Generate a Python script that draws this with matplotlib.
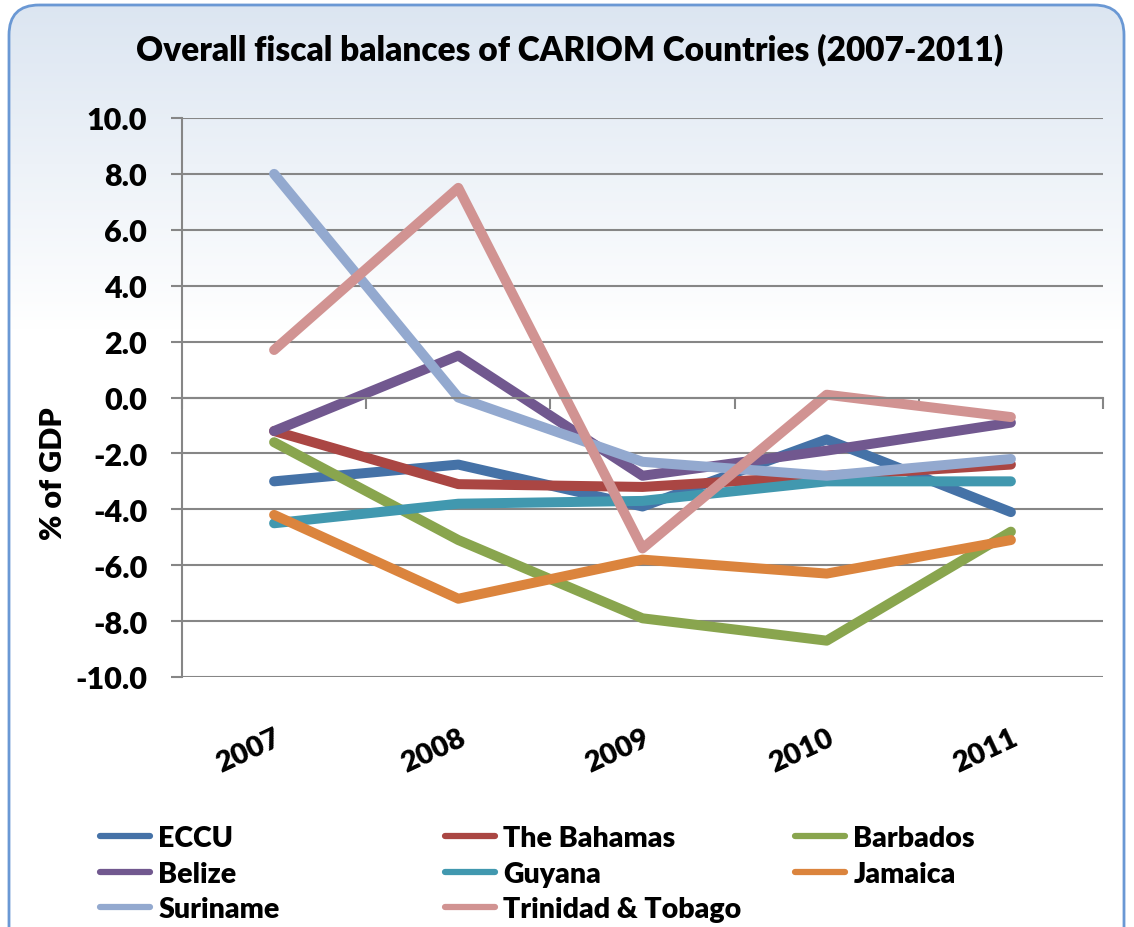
import numpy as np
import matplotlib
matplotlib.use("Agg")
import matplotlib.pyplot as plt
from matplotlib.patches import FancyBboxPatch
from matplotlib.lines import Line2D

years = ["2007", "2008", "2009", "2010", "2011"]
eccu = [-3.0, -2.4, -3.9, -1.5, -4.1]
bahamas = [-1.2, -3.1, -3.2, -2.8, -2.4]
barbados = [-1.6, -5.1, -7.9, -8.7, -4.8]
belize = [-1.2, 1.5, -2.8, -1.9, -0.9]
guyana = [-4.5, -3.8, -3.7, -3.0, -3.0]
jamaica = [-4.2, -7.2, -5.8, -6.3, -5.1]
suriname = [8.0, 0.0, -2.3, -2.8, -2.2]
trinidad = [1.7, 7.5, -5.4, 0.1, -0.7]
yticks = [10, 8, 6, 4, 2, 0, -2, -4, -6, -8, -10]

series = [
    ("ECCU", eccu, "#4572A7"),
    ("The Bahamas", bahamas, "#AA4643"),
    ("Barbados", barbados, "#89A54E"),
    ("Belize", belize, "#71588F"),
    ("Guyana", guyana, "#4198AF"),
    ("Jamaica", jamaica, "#DB843D"),
    ("Suriname", suriname, "#93A9CF"),
    ("Trinidad & Tobago", trinidad, "#D19392"),
]

FONT = "Lato"
WT = "heavy"
W, H = 1134, 928
fig = plt.figure(figsize=(W / 100, H / 100), dpi=100)

# background with gradient inside rounded border
bg = fig.add_axes([0, 0, 1, 1], zorder=-10)
bg.set_xlim(0, W)
bg.set_ylim(H, 0)
bg.axis("off")
grad = np.ones((H, 1, 3))
top = np.array([0xdb, 0xe5, 0xf1]) / 255.0
for i in range(H):
    t = min(i / 330.0, 1.0)
    grad[i, 0, :] = top * (1 - t) + np.ones(3) * t
img = bg.imshow(grad, extent=[0, W, H, 0], aspect="auto", zorder=0)
box = FancyBboxPatch((9, 6), W - 19, H + 30, boxstyle="round,pad=0,rounding_size=30",
                     facecolor="none", edgecolor="#6a98d4", linewidth=2.0, zorder=2)
bg.add_patch(box)
img.set_clip_path(box)

ax = fig.add_axes([182 / W, 1 - 678 / H, (1103 - 182) / W, (678 - 119) / H])
ax.patch.set_alpha(0)
x = np.arange(len(years))
for name, vals, col in series:
    ax.plot(x, vals, color=col, lw=7.2, solid_capstyle="round", solid_joinstyle="round", label=name)

ax.set_xlim(-0.5, 4.5)
ax.set_ylim(-10, 10)
ax.set_yticks(yticks)
ax.set_yticklabels([f"{v:.1f}" for v in yticks], fontsize=22, fontweight=WT, family=FONT)
ax.yaxis.grid(True, color="#868686", lw=1.5)
ax.set_axisbelow(True)
ax.tick_params(axis="y", length=8, width=1.5, color="#868686", pad=17)
for s in ["top", "right"]:
    ax.spines[s].set_visible(False)
ax.spines["left"].set_color("#868686")
ax.spines["left"].set_linewidth(1.5)
ax.spines["bottom"].set_position(("data", 0))
ax.spines["bottom"].set_color("#868686")
ax.spines["bottom"].set_linewidth(1.5)
ax.set_xticks(np.arange(-0.5, 5.0, 1.0))
ax.set_xticklabels([])
ax.tick_params(axis="x", length=8, width=1.5, color="#868686", direction="out")

sec = ax.secondary_xaxis(0)
sec.set_xticks(x)
sec.set_xticklabels(years, rotation=25, ha="right", rotation_mode="anchor",
                    fontsize=21, fontweight=WT, family=FONT)
sec.tick_params(length=0, pad=34)
sec.spines["bottom"].set_visible(False)

ax.set_ylabel("% of GDP", fontsize=22, fontweight=WT, family=FONT)
ax.yaxis.set_label_coords(-0.125, 0.365)

fig.text(570 / W, 1 - 50 / H, "Overall fiscal balances of CARIOM Countries (2007-2011)",
         ha="center", va="center", fontsize=24, fontweight=WT, family=FONT)

# legend: three columns
cols = [[0, 3, 6], [1, 4, 7], [2, 5]]
xs = [100, 445, 795]
for ci, idxs in enumerate(cols):
    handles = [Line2D([], [], color=series[i][2], lw=4.5, solid_capstyle="round") for i in idxs]
    labels = [series[i][0] for i in idxs]
    leg = fig.legend(handles, labels, loc="upper left", bbox_to_anchor=(xs[ci] / W, 1 - 826 / H),
                     frameon=False, prop={"family": FONT, "weight": WT, "size": 20.5},
                     handlelength=1.75, handletextpad=0.3, labelspacing=0.34, borderaxespad=0,
                     borderpad=0)

fig.savefig("out.png", dpi=100)
